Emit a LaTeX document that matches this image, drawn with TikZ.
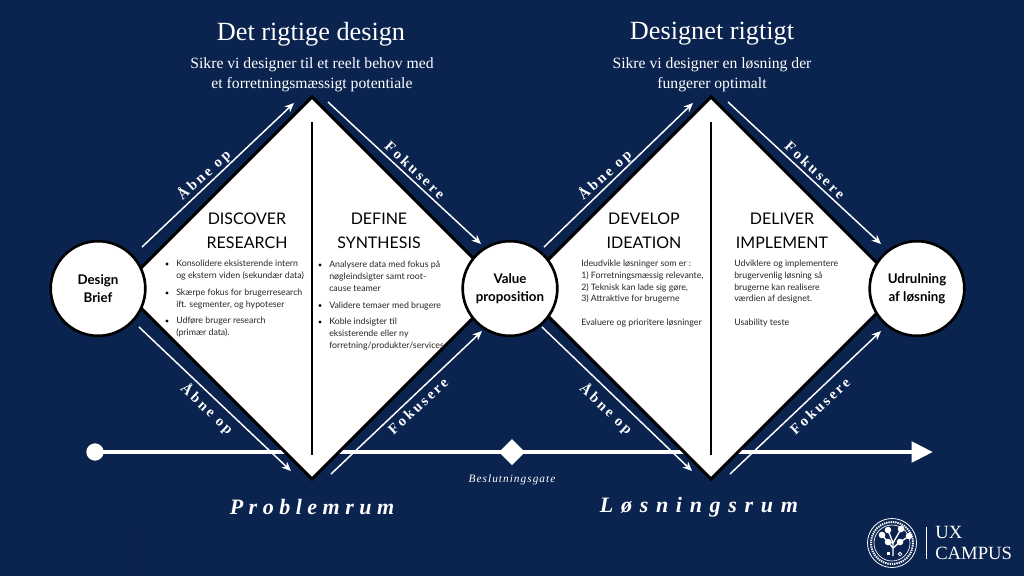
\documentclass[tikz,border=0pt]{standalone}
\usepackage{fontspec}
\setmainfont{Lato}
\newfontfamily\serifb{Liberation Serif}
\usetikzlibrary{arrows.meta}
\definecolor{navy}{HTML}{0B234F}
\definecolor{navyd}{HTML}{08204A}
\tikzset{
 x=0.75pt,y=-0.75pt,
 diam/.style={fill=white,draw=black,line width=2.2pt,line join=miter},
 divider/.style={draw=black,line width=2pt},
 circ/.style={circle,fill=white,draw=black,line width=2pt,minimum size=71pt,inner sep=0pt,align=center,font=\fontsize{10}{13.5}\selectfont\bfseries},
 flow/.style={draw=white,line width=1.1pt,-{Stealth[length=7pt,width=6pt]}},
 flowlab/.style={text=white,font=\serifb\bfseries\fontsize{11}{12}\selectfont\addfontfeatures{LetterSpace=18}},
 h1/.style={text=white,font=\serifb\fontsize{19.7}{23}\selectfont},
 h2/.style={text=white,align=center,font=\serifb\fontsize{11.75}{15}\selectfont},
 phase/.style={align=center,text=black,font=\fontsize{12}{18}\selectfont},
 body/.style={align=left,anchor=north west,inner sep=0pt,text=black!85,font=\fontsize{6.6}{8.8}\selectfont},
 bulletdot/.style={fill=black},
 spaceP/.style={text=white,font=\serifb\bfseries\itshape\fontsize{16.5}{18}\selectfont\addfontfeatures{LetterSpace=25}},
 spaceL/.style={text=white,font=\serifb\bfseries\itshape\fontsize{16.5}{18}\selectfont\addfontfeatures{LetterSpace=35}},
 logoline/.style={draw=white,line width=1pt},
}
\begin{document}
\begin{tikzpicture}
\useasboundingbox (0,0) rectangle (1024,576);
\fill[navy] (0,0) rectangle (1024,576);
\draw[navyd,line width=0.5pt] (139,527) -- (139,576);
% timeline
\coordinate (tlS) at (95,452);
\coordinate (tlE) at (933,452);
\draw[white,line width=3.7pt,-{Triangle[length=16pt,width=15pt]}] (tlS) -- (tlE);
\node[circle,fill=white,minimum size=13pt,inner sep=0pt] (tlDot) at (tlS) {};
% diamonds
\draw[diam] (312,97) -- (503,288) -- (312,479) -- (121,288) -- cycle;
\draw[diam] (711,97) -- (902,288) -- (711,479) -- (520,288) -- cycle;
\draw[divider] (312,122) -- (312,455);
\draw[divider] (711,122) -- (711,455);
% gate
\fill[white] (512,439) -- (525,452) -- (512,465) -- (499,452) -- cycle;
\node[text=white,font=\serifb\itshape\fontsize{8.5}{10}\selectfont\addfontfeatures{LetterSpace=9}] at (512,480) {Beslutningsgate};
% circles
\node[circ] (brief) at (98,288.5) {Design\\Brief};
\node[circ] (value) at (510,288.5) {Value\\proposition};
\node[circ] (deploy) at (917,288.5) {Udrulning\\af løsning};
% flow arrows
\coordinate (a1) at (142,247); \coordinate (a2) at (294,103);
\coordinate (b1) at (328,102); \coordinate (b2) at (481,244);
\coordinate (c1) at (139,327); \coordinate (c2) at (291,471);
\coordinate (d1) at (331,474); \coordinate (d2) at (482,331);
\coordinate (e1) at (544,247); \coordinate (e2) at (693,103);
\coordinate (f1) at (728,102); \coordinate (f2) at (881,244);
\coordinate (g1) at (542,327); \coordinate (g2) at (692,471);
\coordinate (h1) at (730,474); \coordinate (h2) at (881,331);
\draw[flow] (a1) -- (a2); \draw[flow] (b1) -- (b2); \draw[flow] (c1) -- (c2); \draw[flow] (d1) -- (d2);
\draw[flow] (e1) -- (e2); \draw[flow] (f1) -- (f2); \draw[flow] (g1) -- (g2); \draw[flow] (h1) -- (h2);
% flow labels
\node[flowlab,rotate=42] at (204,175) {Åbne op};
\node[flowlab,rotate=-43] at (415,170) {Fokusere};
\node[flowlab,rotate=-43] at (207,409) {Åbne op};
\node[flowlab,rotate=43] at (418,406) {Fokusere};
\node[flowlab,rotate=42] at (605,175) {Åbne op};
\node[flowlab,rotate=-43] at (815,170) {Fokusere};
\node[flowlab,rotate=-43] at (606,409) {Åbne op};
\node[flowlab,rotate=43] at (820,406) {Fokusere};
% headings
\node[h1] at (311,34) {Det rigtige design};
\node[h2] at (312,75) {Sikre vi designer til et reelt behov med\\et forretningsmæssigt potentiale};
\node[h1] at (712,34) {Designet rigtigt};
\node[h2] at (712,75) {Sikre vi designer en løsning der\\fungerer optimalt};
% phases
\node[phase] at (247,231) {DISCOVER\\RESEARCH};
\node[phase] at (379,231) {DEFINE\\SYNTHESIS};
\node[phase] at (644,231) {DEVELOP\\IDEATION};
\node[phase] at (782,231) {DELIVER\\IMPLEMENT};
% body text
\fill[bulletdot] (167,264) circle[radius=1.6] (167,293) circle[radius=1.6] (167,321) circle[radius=1.6];
\node[body] at (176,260) {Konsolidere eksisterende intern\\og ekstern viden (sekundær data)};
\node[body] at (176,289) {Skærpe fokus for brugerresearch\\ift. segmenter, og hypoteser};
\node[body] at (176,317) {Udføre bruger research\\(primær data).};
\fill[bulletdot] (320,265) circle[radius=1.6] (320,305.5) circle[radius=1.6] (320,322) circle[radius=1.6];
\node[body] at (329,261) {Analysere data med fokus på\\nøgleindsigter samt root-\\cause teamer};
\node[body] at (329,301.5) {Validere temaer med brugere};
\node[body] at (329,318) {Koble indsigter til\\eksisterende eller ny\\forretning/produkter/services};
\node[body] at (581,260) {Ideudvikle løsninger som er :\\1) Forretningsmæssig relevante,\\2) Teknisk kan lade sig gøre,\\3) Attraktive for brugerne\\[8.8pt]Evaluere og prioritere løsninger};
\node[body] at (734,260) {Udviklere og implementere\\brugervenlig løsning så\\brugerne kan realisere\\værdien af designet.\\[8.8pt]Usability teste};
% space labels
\node[spaceP] at (312,507) {Problemrum};
\node[spaceL] at (699,507) {Løsningsrum};
% logo
\draw[white,line width=0.6pt] (892,543) circle[radius=24.5];
\draw[white,line width=1.5pt,dash pattern=on 1pt off 0.7pt] (892,543) circle[radius=21];
\draw[white,line width=0.5pt] (892,543) circle[radius=18];
\draw[logoline] (893,556) -- (893,543) -- (888,542);
\draw[logoline] (893,548) -- (882,535);
\draw[logoline] (893,548) -- (900,542);
\draw[logoline] (893,543) -- (888,530);
\draw[logoline] (893,543) -- (901,529);
\draw[logoline] (896,545) -- (909,536);
\fill[white] (882,535) circle[radius=3.3] (888,530) circle[radius=3.3] (901,529) circle[radius=3.3]
  (909,536) circle[radius=3.3] (888,542) circle[radius=3.3] (900,542) circle[radius=3.3];
\fill[white] (886.5,552) rectangle (889.5,555);
\draw[white,line width=0.6pt] (900,554) circle[radius=1.8];
\draw[white,line width=0.5pt] (926.5,527) -- (926.5,559);
\node[text=white,anchor=west,align=left,inner sep=0pt,font=\serifb\fontsize{14}{15.75}\selectfont] at (935,542.5) {UX\\CAMPUS};
\end{tikzpicture}
\end{document}
